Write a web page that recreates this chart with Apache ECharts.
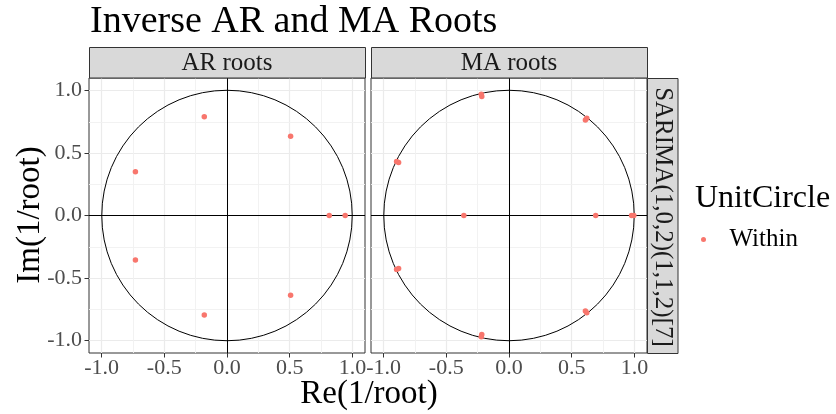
<!DOCTYPE html>
<html>
<head>
<meta charset="utf-8">
<script src="https://cdn.jsdelivr.net/npm/echarts@6/dist/echarts.min.js"></script>
<style>html,body{margin:0;padding:0;background:#fff}#c{width:836px;height:414px}</style>
</head>
<body>
<div id="c"></div>
<script>
// ---- data ----
const panels = ['AR roots', 'MA roots'];
const modelLabel = 'SARIMA(1,0,2)(1,1,2)[7]';
const arRe = [-0.181, -0.181, 0.507, 0.507, -0.730, -0.730, 0.815, 0.942];
const arIm = [0.791, -0.795, 0.634, -0.637, 0.351, -0.356, 0, 0];
const maRe = [0.977, 0.995, 0.609, 0.620, 0.609, 0.620, -0.217, -0.221, -0.217, -0.221, -0.880, -0.896, -0.880, -0.896, -0.360, 0.691];
const maIm = [0, 0, 0.764, 0.778, -0.764, -0.778, 0.952, 0.970, -0.952, -0.970, 0.424, 0.432, -0.424, -0.432, 0, 0];
const tickValues = [-1, -0.5, 0, 0.5, 1];
const minorValues = [-0.75, -0.25, 0.25, 0.75];
const unitRadius = 1;
const legendTitle = 'UnitCircle';
const legendItem = 'Within';

const FONT = 'Liberation Serif';
const chart = echarts.init(document.getElementById('c'));

const grids = [
  {left: 89, top: 78, width: 276, height: 275, show: true, borderColor: '#333', borderWidth: 1, backgroundColor: '#fff'},
  {left: 371, top: 78, width: 276, height: 275, show: true, borderColor: '#333', borderWidth: 1, backgroundColor: '#fff'}
];

function xAxis(i) {
  return {
    type: 'value', gridIndex: i, min: -1.1, max: 1.1, position: 'bottom',
    axisLine: {show: false, onZero: false},
    axisTick: {show: true, length: 4.5, customValues: tickValues, lineStyle: {color: '#333', width: 1}},
    axisLabel: {show: true, customValues: tickValues, margin: 4, color: '#4D4D4D', fontFamily: FONT, fontSize: 22,
      formatter: v => v.toFixed(1)},
    splitLine: {show: false}
  };
}
function yAxis(i) {
  return {
    type: 'value', gridIndex: i, min: -1.1, max: 1.1, position: 'left',
    axisLine: {show: false, onZero: false},
    axisTick: {show: i === 0, length: 4.5, customValues: tickValues, lineStyle: {color: '#333', width: 1}},
    axisLabel: {show: i === 0, customValues: tickValues, margin: 7, color: '#4D4D4D', fontFamily: FONT, fontSize: 22,
      formatter: v => v.toFixed(1)},
    splitLine: {show: false}
  };
}

function gridLines(i) {
  const d = [];
  tickValues.forEach(v => {
    d.push({xAxis: v, lineStyle: {color: '#EBEBEB', width: 1.2, type: 'solid'}});
    d.push({yAxis: v, lineStyle: {color: '#EBEBEB', width: 1.2, type: 'solid'}});
  });
  minorValues.forEach(v => {
    d.push({xAxis: v, lineStyle: {color: '#F1F1F1', width: 0.9, type: 'solid'}});
    d.push({yAxis: v, lineStyle: {color: '#F1F1F1', width: 0.9, type: 'solid'}});
  });
  return {
    type: 'scatter', xAxisIndex: i, yAxisIndex: i, data: [], silent: true, z: 1,
    markLine: {silent: true, symbol: 'none', label: {show: false}, z: 1, animation: false, data: d}
  };
}
function zeroLines(i) {
  return {
    type: 'scatter', xAxisIndex: i, yAxisIndex: i, data: [], silent: true, z: 2,
    markLine: {silent: true, symbol: 'none', label: {show: false}, z: 2, animation: false,
      data: [{xAxis: 0}, {yAxis: 0}], lineStyle: {color: '#000', width: 1, type: 'solid'}}
  };
}
function circle(i) {
  return {
    type: 'custom', xAxisIndex: i, yAxisIndex: i, silent: true, z: 3, clip: false,
    data: [[0, 0, unitRadius]],
    renderItem: (params, api) => {
      const c = api.coord([api.value(0), api.value(1)]);
      const s = api.size([api.value(2), api.value(2)]);
      return {type: 'circle', shape: {cx: c[0], cy: c[1], r: (s[0] + s[1]) / 2},
        style: {fill: 'none', stroke: '#000', lineWidth: 1}};
    }
  };
}
function points(i, re, im) {
  return {
    type: 'scatter', name: legendItem, xAxisIndex: i, yAxisIndex: i, z: 5,
    symbol: 'circle', symbolSize: 5.5, itemStyle: {color: '#F8766D', opacity: 1},
    data: re.map((v, k) => [v, im[k]])
  };
}

const strips = [];
grids.forEach((g, i) => {
  strips.push({type: 'rect', shape: {x: g.left + 0.5, y: 47.5, width: g.width, height: 30.5},
    style: {fill: '#D9D9D9', stroke: '#333', lineWidth: 1}, z: 10});
  strips.push({type: 'text', x: g.left + g.width / 2, y: 63, z: 11,
    style: {text: panels[i], fill: '#1A1A1A', font: '25px "' + FONT + '"', align: 'center', verticalAlign: 'middle'}});
});
strips.push({type: 'rect', shape: {x: 647.5, y: 78.5, width: 30.5, height: 275},
  style: {fill: '#D9D9D9', stroke: '#333', lineWidth: 1}, z: 10});
strips.push({type: 'text', x: 663, y: 217, rotation: -Math.PI / 2, z: 11,
  style: {text: modelLabel, fill: '#1A1A1A', font: '25px "' + FONT + '"', align: 'center', verticalAlign: 'middle'}});
strips.push({type: 'text', x: 90, y: 22, z: 11,
  style: {text: 'Inverse AR and MA Roots', fill: '#000', font: '38px "' + FONT + '"', align: 'left', verticalAlign: 'middle'}});
strips.push({type: 'text', x: 369, y: 394, z: 11,
  style: {text: 'Re(1/root)', fill: '#000', font: '33px "' + FONT + '"', align: 'center', verticalAlign: 'middle'}});
strips.push({type: 'text', x: 30, y: 215, rotation: Math.PI / 2, z: 11,
  style: {text: 'Im(1/root)', fill: '#000', font: '33px "' + FONT + '"', align: 'center', verticalAlign: 'middle'}});
strips.push({type: 'text', x: 695, y: 199, z: 11,
  style: {text: legendTitle, fill: '#000', font: '32px "' + FONT + '"', align: 'left', verticalAlign: 'middle'}});

chart.setOption({
  animation: false,
  backgroundColor: '#fff',
  grid: grids,
  xAxis: [xAxis(0), xAxis(1)],
  yAxis: [yAxis(0), yAxis(1)],
  legend: {
    data: [legendItem], left: 701, top: 227, padding: 0, itemWidth: 42, itemHeight: 5, icon: 'circle',
    selectedMode: false,
    textStyle: {fontFamily: FONT, fontSize: 25, color: '#000'}
  },
  graphic: strips,
  series: [
    gridLines(0), gridLines(1), zeroLines(0), zeroLines(1), circle(0), circle(1),
    points(0, arRe, arIm), points(1, maRe, maIm)
  ]
});
</script>
</body>
</html>
